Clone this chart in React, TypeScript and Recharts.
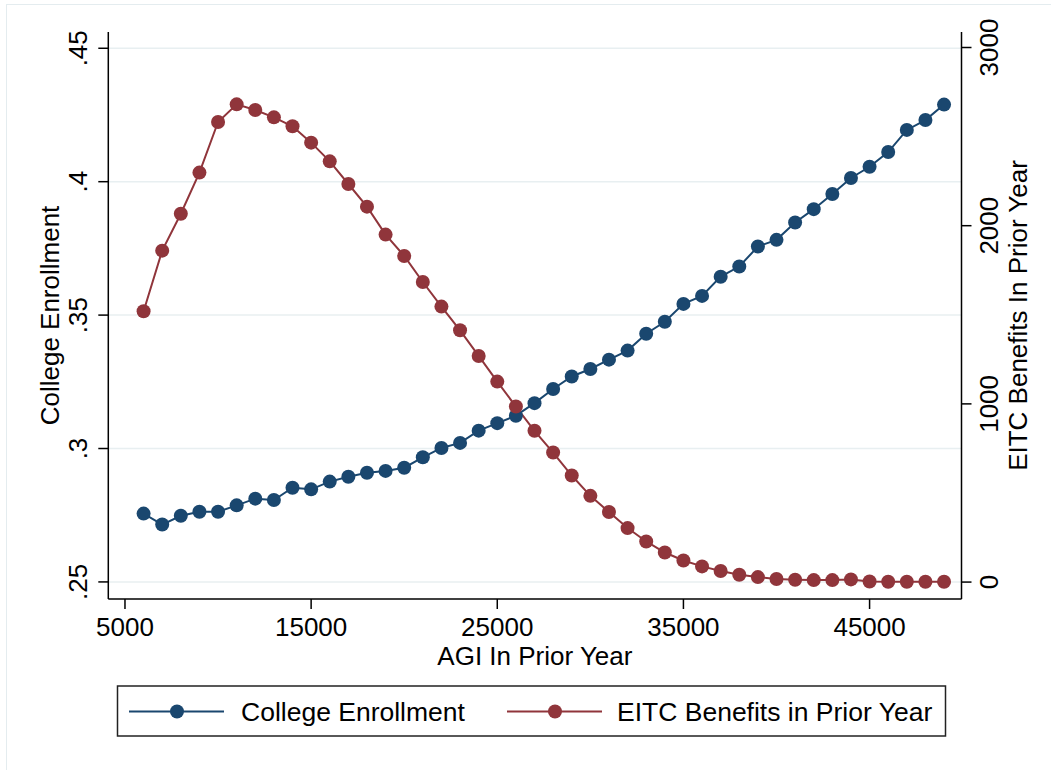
import React from 'react';
import {
  ComposedChart,
  Line,
  XAxis,
  YAxis,
  CartesianGrid,
  Label,
} from 'recharts';

// AGI bins (x)
const agi = [
  6000, 7000, 8000, 9000, 10000, 11000, 12000, 13000, 14000, 15000, 16000,
  17000, 18000, 19000, 20000, 21000, 22000, 23000, 24000, 25000, 26000, 27000,
  28000, 29000, 30000, 31000, 32000, 33000, 34000, 35000, 36000, 37000, 38000,
  39000, 40000, 41000, 42000, 43000, 44000, 45000, 46000, 47000, 48000, 49000,
];

// College enrollment share (left axis)
const enrollment = [
  0.2756, 0.2715, 0.2748, 0.2763, 0.2763, 0.2787, 0.2812, 0.2807, 0.2853,
  0.2847, 0.2876, 0.2894, 0.2909, 0.2916, 0.2928, 0.2967, 0.3002, 0.3021,
  0.3067, 0.3095, 0.3123, 0.317, 0.3223, 0.327, 0.3298, 0.3333, 0.3367,
  0.343, 0.3475, 0.3542, 0.3572, 0.3644, 0.3682, 0.3757, 0.3782, 0.3847,
  0.3897, 0.3954, 0.4014, 0.4056, 0.4111, 0.4194, 0.4231, 0.4289,
];

// EITC benefits in prior year, dollars (right axis)
const eitc = [
  1520, 1860, 2067, 2298, 2582, 2681, 2649, 2608, 2558, 2466, 2361, 2234,
  2107, 1950, 1830, 1684, 1546, 1413, 1269, 1125, 985, 849, 727, 598, 484,
  393, 303, 228, 166, 121, 88, 62, 41, 28, 17, 13, 11, 11, 15, 3, 2, 2, 2, 2,
];

const xTicks = [5000, 15000, 25000, 35000, 45000];
const leftTicks = [0.25, 0.3, 0.35, 0.4, 0.45];
const rightTicks = [0, 1000, 2000, 3000];

const BLUE = '#1a476f';
const RED = '#90353b';
const GRID = '#e8eff1';
const FONT = '"Liberation Sans", Arial, Helvetica, sans-serif';

const series = [
  { key: 'enrollment', name: 'College Enrollment', color: BLUE, axis: 'left' },
  { key: 'eitc', name: 'EITC Benefits in Prior Year', color: RED, axis: 'right' },
];

const chartData = agi.map((x, i) => ({
  agi: x,
  enrollment: enrollment[i],
  eitc: eitc[i],
}));

const fmtLeft = (v: number) => {
  const s = String(Number(v.toFixed(2)));
  return s.startsWith('0') ? s.slice(1) : s;
};

function LeftTick(props: any) {
  const { y, payload } = props;
  return (
    <text
      x={87}
      y={y}
      transform={`rotate(-90, 87, ${y})`}
      textAnchor="middle"
      fontSize={26}
      fill="#000"
      fontFamily={FONT}
    >
      {fmtLeft(payload.value)}
    </text>
  );
}

function RightTick(props: any) {
  const { y, payload } = props;
  return (
    <text
      x={998}
      y={y}
      transform={`rotate(-90, 998, ${y})`}
      textAnchor="middle"
      fontSize={26}
      fill="#000"
      fontFamily={FONT}
    >
      {payload.value}
    </text>
  );
}

function BottomTick(props: any) {
  const { x, payload } = props;
  return (
    <text x={x} y={636} textAnchor="middle" fontSize={26} fill="#000" fontFamily={FONT}>
      {payload.value}
    </text>
  );
}

function LegendBox() {
  const slots = [
    { lineX: 129, textX: 241 },
    { lineX: 507, textX: 617 },
  ];
  return (
    <svg
      width={1051}
      height={770}
      style={{ position: 'absolute', left: 0, top: 0, pointerEvents: 'none' }}
    >
      <rect x={117.5} y={686} width={828} height={50} fill="#fff" stroke="#222" strokeWidth={1.5} />
      {series.map((s, i) => (
        <g key={s.key}>
          <line
            x1={slots[i].lineX}
            x2={slots[i].lineX + 95}
            y1={711.5}
            y2={711.5}
            stroke={s.color}
            strokeWidth={2}
          />
          <circle cx={slots[i].lineX + 48} cy={711.5} r={7} fill={s.color} />
          <text
            x={slots[i].textX}
            y={721}
            fontSize={26.5}
            fill="#000"
            fontFamily={FONT}
          >
            {s.name}
          </text>
        </g>
      ))}
    </svg>
  );
}

export default function App() {
  return (
    <div
      style={{
        position: 'absolute',
        left: 0,
        top: 0,
        width: 1051,
        height: 770,
        overflow: 'hidden',
        background: '#fff',
        fontFamily: FONT,
      }}
    >
      <div
        style={{
          position: 'absolute',
          left: 6,
          top: 4,
          width: 1100,
          height: 800,
          border: '1px solid #e4ecef',
        }}
      />
      <ComposedChart
        width={1051}
        height={770}
        data={chartData}
        margin={{ top: 32, right: 0, left: 0, bottom: 111 }}
        style={{ position: 'absolute', left: 0, top: 0 }}
      >
        <CartesianGrid
          yAxisId="left"
          vertical={false}
          stroke={GRID}
          strokeWidth={1.5}
          horizontalValues={leftTicks}
        />
        <XAxis
          dataKey="agi"
          type="number"
          domain={[4104, 49938]}
          ticks={xTicks}
          allowDataOverflow
          height={60}
          tickSize={10}
          axisLine={{ stroke: '#000', strokeWidth: 1.5 }}
          tickLine={{ stroke: '#000', strokeWidth: 1.5 }}
          tick={<BottomTick />}
        >
          <Label
            value="AGI In Prior Year"
            position="center"
            dy={27}
            fontSize={26}
            fill="#000"
            fontFamily={FONT}
          />
        </XAxis>
        <YAxis
          yAxisId="left"
          orientation="left"
          type="number"
          domain={[0.2436, 0.4561]}
          ticks={leftTicks}
          allowDataOverflow
          width={108.3}
          tickSize={10}
          axisLine={{ stroke: '#000', strokeWidth: 1.5 }}
          tickLine={{ stroke: '#000', strokeWidth: 1.5 }}
          tick={<LeftTick />}
        >
          <Label
            value="College Enrollment"
            position="center"
            angle={-90}
            dx={-4}
            fontSize={26}
            fill="#000"
            fontFamily={FONT}
          />
        </YAxis>
        <YAxis
          yAxisId="right"
          orientation="right"
          type="number"
          domain={[-95, 3087]}
          ticks={rightTicks}
          allowDataOverflow
          width={89.5}
          tickSize={10}
          axisLine={{ stroke: '#000', strokeWidth: 1.5 }}
          tickLine={{ stroke: '#000', strokeWidth: 1.5 }}
          tick={<RightTick />}
        >
          <Label
            value="EITC Benefits In Prior Year"
            position="center"
            angle={-90}
            dx={12}
            fontSize={26}
            fill="#000"
            fontFamily={FONT}
          />
        </YAxis>
        {series.map((s) => (
          <Line
            key={s.key}
            yAxisId={s.axis}
            dataKey={s.key}
            name={s.name}
            type="linear"
            stroke={s.color}
            strokeWidth={2}
            dot={{ r: 7, fill: s.color, stroke: s.color, strokeWidth: 0 }}
            activeDot={false}
            isAnimationActive={false}
          />
        ))}
      </ComposedChart>
      <LegendBox />
    </div>
  );
}
